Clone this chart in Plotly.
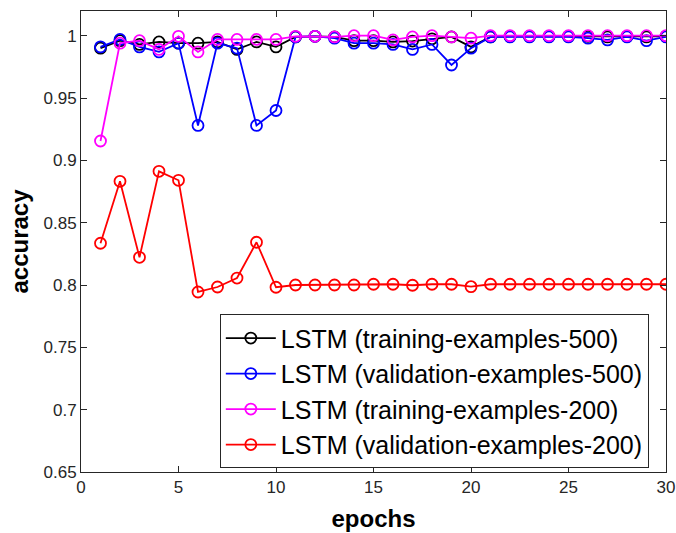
import plotly.graph_objects as go

epochs = list(range(1, 31))

train_500 = [0.990, 0.996, 0.993, 0.995, 0.994, 0.994, 0.995, 0.989, 0.995, 0.991,
             0.999, 0.9995, 0.999, 0.996, 0.996, 0.995, 0.9957, 0.9975, 0.999, 0.991,
             0.999, 0.9995, 0.9995, 0.9995, 0.9995, 0.9995, 0.999, 0.9995, 0.999, 0.9995]
val_500 = [0.991, 0.997, 0.991, 0.987, 0.994, 0.928, 0.994, 0.990, 0.928, 0.940,
           0.999, 0.9995, 0.998, 0.994, 0.994, 0.993, 0.989, 0.993, 0.9765, 0.990,
           0.999, 0.999, 0.999, 0.999, 0.999, 0.998, 0.9966, 0.999, 0.996, 0.999]
train_200 = [0.9155, 0.994, 0.996, 0.989, 0.9995, 0.987, 0.997, 0.997, 0.997, 0.997,
             0.9995, 0.9995, 0.999, 1.0, 1.0, 0.9966, 0.999, 1.0, 0.999, 0.998,
             1.0, 1.0, 1.0, 1.0, 1.0, 1.0, 1.0, 1.0, 1.0, 1.0]
val_200 = [0.8335, 0.8832, 0.8222, 0.8912, 0.884, 0.7944, 0.7984, 0.8056, 0.8343, 0.7982,
           0.800, 0.800, 0.800, 0.800, 0.8006, 0.8006, 0.7998, 0.8006, 0.8006, 0.7987,
           0.8006, 0.8006, 0.8006, 0.8006, 0.8006, 0.8006, 0.8006, 0.8006, 0.8006, 0.8006]

names = ["LSTM (training-examples-500)", "LSTM (validation-examples-500)",
         "LSTM (training-examples-200)", "LSTM (validation-examples-200)"]
colors = ["#000000", "#0000FF", "#FF00FF", "#FF0000"]
series = [train_500, val_500, train_200, val_200]

fig = go.Figure()
for name, color, ys in zip(names, colors, series):
    fig.add_trace(go.Scatter(
        x=epochs, y=ys, name=name, mode="lines+markers",
        line=dict(color=color, width=1.8),
        marker=dict(symbol="circle-open", size=11, color=color, line=dict(width=1.8, color=color)),
    ))

font_family = "Liberation Sans, Arial, Helvetica, sans-serif"
axis_common = dict(
    showline=True, linecolor="#262626", linewidth=1, mirror="ticks",
    ticks="inside", ticklen=6, tickcolor="#262626", tickwidth=1,
    showgrid=False, zeroline=False, automargin=False,
    tickfont=dict(family=font_family, size=17, color="#262626"),
)

fig.update_layout(
    width=676, height=533,
    margin=dict(l=81, r=10, t=11, b=61, autoexpand=False),
    paper_bgcolor="white", plot_bgcolor="white",
    font=dict(family=font_family),
    xaxis=dict(range=[0, 30], tickvals=[0, 5, 10, 15, 20, 25, 30],
               title=dict(text="<b>epochs</b>", font=dict(size=24, color="#000000"), standoff=13),
               **axis_common),
    yaxis=dict(range=[0.65, 1.0198], tickvals=[0.65, 0.7, 0.75, 0.8, 0.85, 0.9, 0.95, 1],
               ticktext=["0.65", "0.7", "0.75", "0.8", "0.85", "0.9", "0.95", "1"],
               title=dict(text="<b>accuracy</b>", font=dict(size=24, color="#000000"), standoff=8),
               **axis_common),
    legend=dict(x=0.2373, y=0.342, xanchor="left", yanchor="top",
                bgcolor="white", bordercolor="#262626", borderwidth=1,
                font=dict(family=font_family, size=25, color="#000000"),
                tracegroupgap=0, itemsizing="trace", itemwidth=50),
    showlegend=True,
)

fig.write_html("out.html", config={"displayModeBar": False},
               post_script="document.body.style.margin='0';document.body.style.overflow='hidden';")
